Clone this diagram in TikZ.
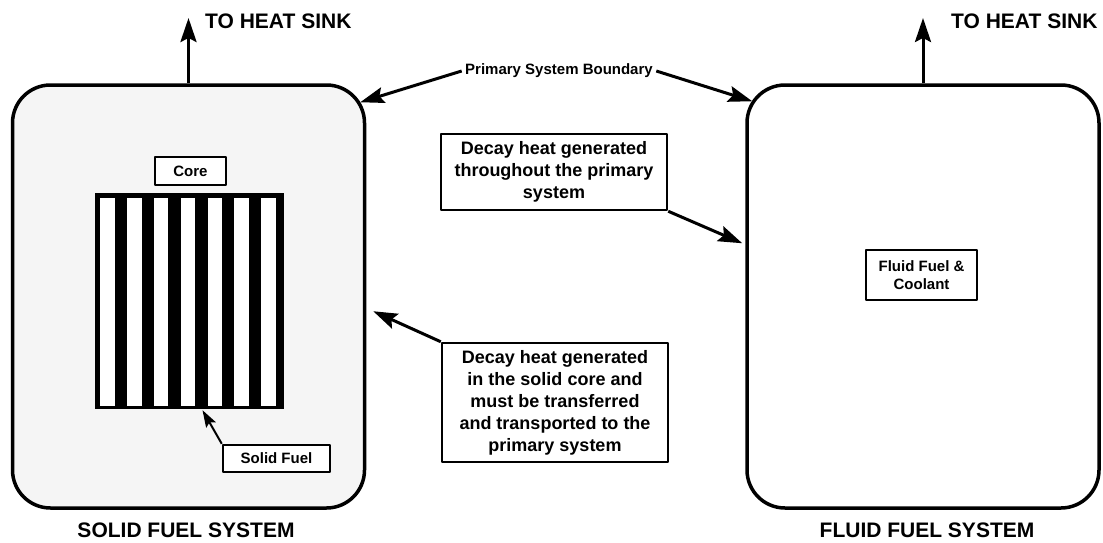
\documentclass[tikz,border=0pt]{standalone}
\usepackage{fontspec}
\setmainfont{Liberation Sans}
\usetikzlibrary{arrows.meta,calc,positioning}

\begin{document}
\begin{tikzpicture}[x=1pt,y=-1pt,font=\bfseries,line join=round,
  >={Stealth[length=24pt,width=16pt,inset=4pt]},
  sysbox/.style={draw,line width=3.5pt,rounded corners=38pt,
    minimum width=352pt,minimum height=423pt,inner sep=0pt},
  tagbox/.style={draw,fill=white,line width=2.5pt,inner sep=0pt,align=center,
    font=\bfseries\fontsize{15}{18}\selectfont},
  notebox/.style={draw,fill=white,line width=2.5pt,inner sep=0pt,align=center,
    minimum width=226pt,font=\bfseries\fontsize{18}{22}\selectfont},
  bigtext/.style={font=\bfseries\fontsize{21}{24}\selectfont,inner sep=0pt},
  arr/.style={->,line width=3pt}]
  \useasboundingbox (0,0) rectangle (1103,543);

  % ---------- the two systems ----------
  \node[sysbox,fill=black!4] (solidsys) at (188.5,296.5) {};
  \node[sysbox] (fluidsys) at (923,296.5) {};
  \node[bigtext] (solidname) at (186,530) {SOLID FUEL SYSTEM};
  \node[bigtext] (fluidname) at (927,530) {FLUID FUEL SYSTEM};

  % ---------- heat removal ----------
  \coordinate (sinkL) at (188.5,18);
  \coordinate (sinkR) at (923,18);
  \draw[arr] (solidsys.north) -- (sinkL);
  \draw[arr] (fluidsys.north) -- (sinkR);
  \node[bigtext,anchor=west] (sinkLtxt) at (205,21) {TO HEAT SINK};
  \node[bigtext,anchor=west] (sinkRtxt) at (951,21) {TO HEAT SINK};

  % ---------- solid core with fuel stripes ----------
  \node[fill=black,minimum width=189pt,minimum height=216pt,inner sep=0pt] (core) at (189.5,301) {};
  \foreach \i in {0,...,6}
    \fill[white] ($(core.north west)+(5.5+26.8*\i,5)$) rectangle ++(14.5,208);
  \node[tagbox,minimum width=71pt,minimum height=28pt] (corelbl) at (190.5,171) {Core};
  \node[tagbox,minimum width=107pt,minimum height=27pt] (fuellbl) at (276.5,458.5) {Solid Fuel};
  \coordinate (fueltip) at ($(core.south)+(13,1)$);
  \draw[->,line width=2pt,>={Stealth[length=17pt,width=11pt,inset=3pt]}] (fuellbl.north west) -- (fueltip);

  % ---------- fluid fuel ----------
  \node[tagbox,minimum width=111pt,minimum height=50pt] (fluidlbl) at (921.5,275) {Fluid Fuel \&\\Coolant};

  % ---------- boundary and decay heat notes ----------
  \node[font=\bfseries\fontsize{15}{18}\selectfont] (boundary) at (559,71) {Primary System Boundary};
  \coordinate (bndL) at ($(solidsys.north east)+(-6,19)$);
  \coordinate (bndR) at ($(fluidsys.north west)+(7,18)$);
  \draw[arr] (boundary.west) -- (bndL);
  \draw[arr] (boundary.east) -- (bndR);

  \node[notebox,minimum height=76pt] (decayfluid) at (554,172)
    {Decay heat generated\\throughout the primary\\system};
  \node[notebox,minimum height=119pt] (decaysolid) at (555,402.5)
    {Decay heat generated\\in the solid core and\\must be transferred\\and transported to the\\primary system};
  \coordinate (hitfluid) at ($(fluidsys.north west)+(-3,160)$);
  \coordinate (hitsolid) at ($(solidsys.north east)+(7,228)$);
  \draw[arr] (decayfluid.south east) -- (hitfluid);
  \draw[arr] (decaysolid.north west) -- (hitsolid);
\end{tikzpicture}
\end{document}
